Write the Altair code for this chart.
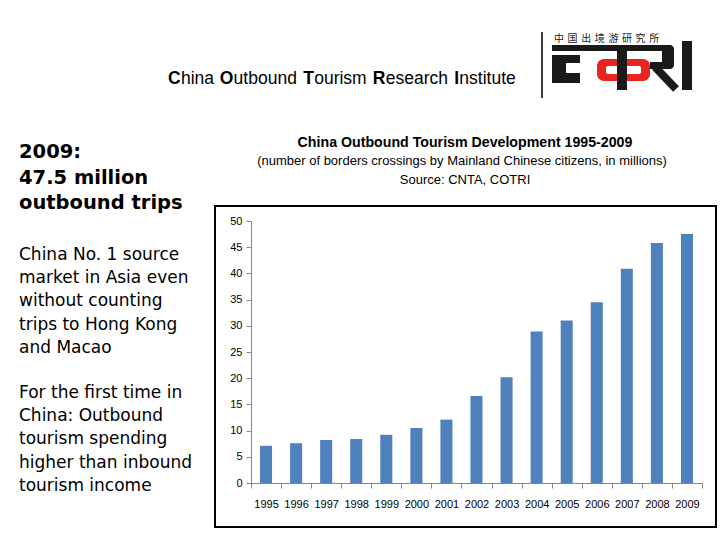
import altair as alt
import pandas as pd

# ---------------- data ----------------
years = ["1995", "1996", "1997", "1998", "1999", "2000", "2001", "2002",
         "2003", "2004", "2005", "2006", "2007", "2008", "2009"]
trips = [7.1, 7.6, 8.2, 8.4, 9.2, 10.5, 12.1, 16.6, 20.2, 28.9, 31.0,
         34.5, 40.9, 45.8, 47.5]
y_ticks = [0, 5, 10, 15, 20, 25, 30, 35, 40, 45, 50]

title_lines = [
    "China Outbound Tourism Development 1995-2009",
    "(number of borders crossings by Mainland Chinese citizens, in millions)",
    "Source: CNTA, COTRI",
]
headline = ["2009:", "47.5 million", "outbound trips"]
para1 = ["China No. 1 source", "market in Asia even", "without counting",
         "trips to Hong Kong", "and Macao"]
para2 = ["For the first time in", "China: Outbound", "tourism spending",
         "higher than inbound", "tourism income"]
header_parts = [("C", True), ("hina ", False), ("O", True), ("utbound ", False),
                ("T", True), ("ourism ", False), ("R", True), ("esearch ", False),
                ("I", True), ("nstitute", False)]
logo_chars = list("中国出境游研究所")

# ---------------- layout helpers ----------------
OX, OY = 251, 221          # page position of plot origin
W, H = 451, 262            # plot size


def px(p):
    return p - OX


def py(p):
    return p - OY


one = pd.DataFrame({"k": [0]})

VERDANA = "'DejaVu Sans', Verdana, sans-serif"
ARIAL = "'Liberation Sans', Arial, sans-serif"


def text_layer(text, x, y, size, weight="normal", font=ARIAL, align="left",
               color="#000000", line_height=None):
    kw = {}
    if line_height is not None:
        kw["lineHeight"] = line_height
    return alt.Chart(one).mark_text(
        text=text, align=align, baseline="alphabetic", fontSize=size,
        fontWeight=weight, font=font, color=color, **kw
    ).encode(x=alt.value(px(x)), y=alt.value(py(y)))


def rect_layer(x1, y1, x2, y2, color, radius=0):
    kw = {}
    if radius:
        kw["cornerRadius"] = radius
    return alt.Chart(one).mark_rect(color=color, **kw).encode(
        x=alt.value(px(x1)), x2=alt.value(px(x2)),
        y=alt.value(py(y1)), y2=alt.value(py(y2)))


def rule_layer(x1, y1, x2, y2, color, width):
    return alt.Chart(one).mark_rule(color=color, strokeWidth=width).encode(
        x=alt.value(px(x1)), x2=alt.value(px(x2)),
        y=alt.value(py(y1)), y2=alt.value(py(y2)))


# ---------------- bars ----------------
df = pd.DataFrame({"year": years, "trips": trips})
bars = alt.Chart(df).mark_bar(color="#4f81bd", width=alt.RelativeBandSize(0.4)).encode(
    x=alt.X("year:N", sort=years,
            scale=alt.Scale(paddingInner=0, paddingOuter=0),
            axis=alt.Axis(title=None, labelAngle=0, tickBand="extent",
                          domainColor="#868686", tickColor="#868686",
                          tickSize=5, labelPadding=10, labelFont=ARIAL,
                          labelFontSize=11, labelColor="#000000")),
    y=alt.Y("trips:Q", scale=alt.Scale(domain=[0, 50], nice=False),
            axis=alt.Axis(title=None, values=y_ticks, grid=False,
                          domainColor="#868686", tickColor="#868686",
                          tickSize=5, labelPadding=4, labelFont=ARIAL,
                          labelFontSize=11, labelColor="#000000")),
)

layers = []

# frame around the chart
layers.append(alt.Chart(one).mark_rect(filled=False, stroke="#000000", strokeWidth=2).encode(
    x=alt.value(px(215)), x2=alt.value(px(716)),
    y=alt.value(py(206)), y2=alt.value(py(527))))

layers.append(bars)

# chart titles
layers.append(text_layer(title_lines[0], 465, 147, 14.2, "bold", ARIAL, "center"))
layers.append(text_layer(title_lines[1], 462, 164.5, 13, "normal", ARIAL, "center"))
layers.append(text_layer(title_lines[2], 465, 184, 13, "normal", ARIAL, "center"))

# left texts
layers.append(text_layer(headline, 19, 158, 19.5, "bold", VERDANA, line_height=25.5))
layers.append(text_layer(para1, 19, 260, 17, "normal", VERDANA, line_height=23.2))
layers.append(text_layer(para2, 19, 398, 17, "normal", VERDANA, line_height=23.2))

# header line with bold initials
arial_w = {"C": 722, "O": 778, "T": 611, "R": 722, "I": 278, "a": 556, "b": 556,
           "c": 500, "d": 556, "e": 556, "h": 556, "i": 222, "m": 833, "n": 556,
           "o": 556, "r": 333, "s": 500, "t": 278, "u": 556, " ": 278}
total_units = sum(arial_w[ch] for part, _ in header_parts for ch in part)
hx0, hx1 = 168, 517
k = (hx1 - hx0) / total_units
cur = hx0
for part, bold in header_parts:
    layers.append(text_layer(part, cur, 83.5, 17.5, "bold" if bold else "normal", ARIAL))
    cur += k * sum(arial_w[ch] for ch in part)

# logo
layers.append(rule_layer(542, 32, 542, 98, "#000000", 1.5))
for i, ch in enumerate(logo_chars):
    layers.append(alt.Chart(one).mark_text(
        text=ch, align="center", baseline="middle", fontSize=10,
        font="'Noto Sans CJK SC'", color="#222222"
    ).encode(x=alt.value(px(559 + 13.6 * i)), y=alt.value(py(38.5))))

layers.append(rect_layer(552, 45, 671, 51, "#1a1a1a"))            # top bar
layers.append(rect_layer(552, 55, 580, 83, "#1a1a1a"))            # C block
layers.append(rect_layer(566, 63, 581, 73, "#ffffff"))            # C notch
layers.append(rect_layer(597, 59, 650, 81, "#e8251f", 7))         # red box
layers.append(rect_layer(606, 66, 641, 74, "#ffffff", 2))         # red box hole
layers.append(rect_layer(617, 45, 627, 90, "#1a1a1a"))            # stem
layers.append(rect_layer(662, 45, 674, 69, "#1a1a1a", 4))         # R bowl right
layers.append(rect_layer(650, 62, 670, 69, "#1a1a1a"))            # R bowl bottom
layers.append(rule_layer(655, 67, 676, 89, "#1a1a1a", 8))         # R leg
layers.append(rect_layer(682, 41, 692, 90, "#1a1a1a"))            # I

chart = alt.layer(*layers).properties(
    width=W, height=H,
    padding={"left": OX - 8, "top": OY - 8, "right": 16, "bottom": 48},
    autosize=alt.AutoSizeParams(type="none"),
    background="#ffffff",
).configure_view(stroke=None)

chart.save("out.html", embed_options={"renderer": "svg", "actions": False})
